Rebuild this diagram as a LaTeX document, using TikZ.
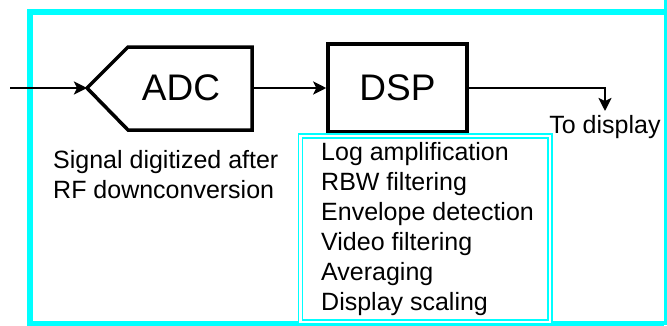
\documentclass[tikz,border=0pt]{standalone}
\usepackage{fontspec}
\setmainfont{Liberation Sans}
\usetikzlibrary{arrows.meta,positioning}
\definecolor{framecyan}{RGB}{0,255,255}
\tikzset{
  block/.style={draw, line width=3.5pt, minimum width=139pt, minimum height=88pt,
    inner sep=0pt, font=\fontsize{37}{40}\selectfont},
  sig/.style={line width=2.8pt, -{Stealth[length=13pt,width=13pt,inset=3pt]}},
  note/.style={font=\fontsize{25}{30}\selectfont, align=left, inner sep=0pt},
  listbox/.style={draw=framecyan, line width=1.5pt, double=white, double distance=2.5pt,
    minimum width=249.5pt, minimum height=186pt, inner sep=0pt},
}
\begin{document}
\begin{tikzpicture}[x=1pt,y=-1pt,line join=miter]
  \useasboundingbox (0,0) rectangle (667,325);
  % frame
  \draw[framecyan, line width=6pt] (664,11.5) -- (30,11.5) -- (30,323.5) -- (664,323.5);
  \fill[framecyan] (664,0) rectangle (667,325);
  % ADC
  \coordinate (S) at (10,88);
  \coordinate (T) at (87,88);
  \coordinate (A) at (128,47);
  \coordinate (B) at (252,47);
  \coordinate (C) at (252,130);
  \coordinate (D) at (128,130);
  \coordinate (O) at (252,88);
  \draw[line width=3.5pt] (T) -- (A) -- (B) -- (C) -- (D) -- cycle;
  \node[font=\fontsize{37}{40}\selectfont, inner sep=0pt] (adc) at (181,88) {ADC};
  % DSP
  \node[block] (dsp) at (397.5,88) {DSP};
  \coordinate (K) at (605,88);
  \coordinate (Z) at (605,111);
  \draw[sig] (S) -- (T);
  \draw[sig] (O) -- (dsp.west);
  \draw[sig] (dsp.east) -- (K) -- (Z);
  \node[note, below=4pt of Z] (todisp) {To display};
  \node[note, anchor=north west] (caption) at (53,149.7) {Signal digitized after\\RF downconversion};
  % list of DSP steps
  \node[listbox, anchor=north west] (funcs) at (299.5,135) {};
  \node[note, anchor=north west] (steps) at (321,141.7) {Log amplification\\RBW filtering\\Envelope detection\\Video filtering\\Averaging\\Display scaling};
\end{tikzpicture}
\end{document}
